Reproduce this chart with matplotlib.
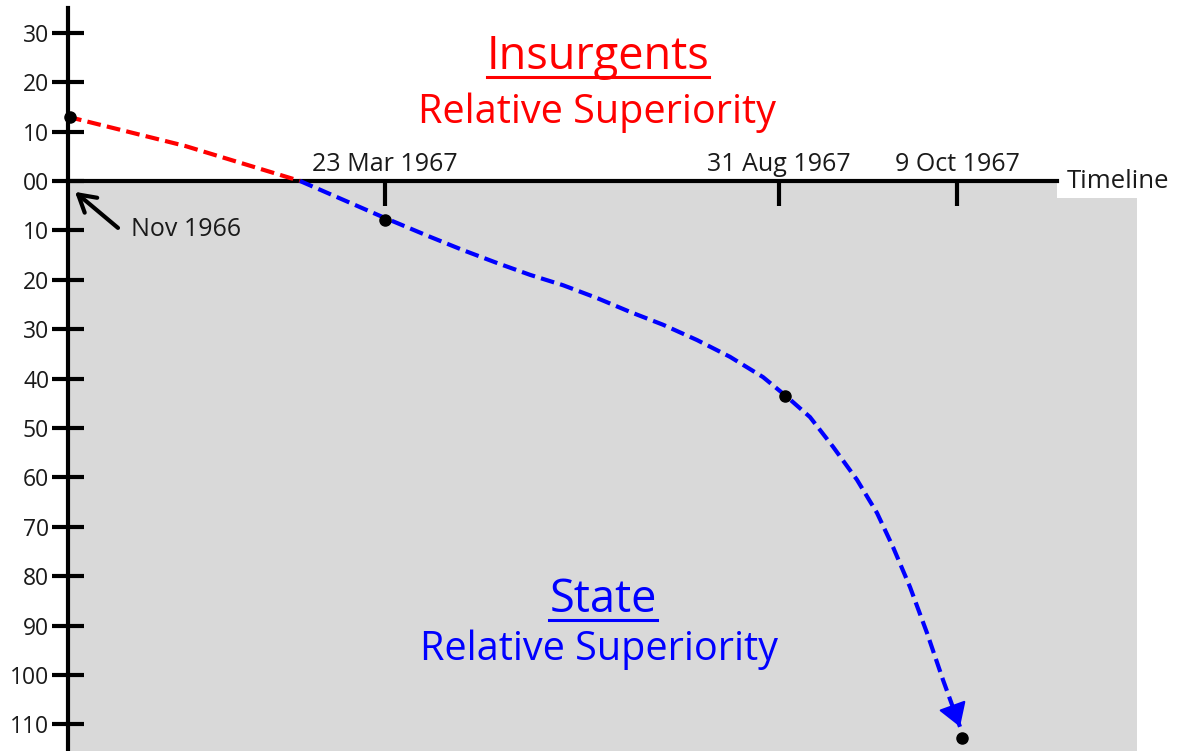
import numpy as np
import matplotlib.pyplot as plt
from matplotlib.patches import Rectangle
from matplotlib.lines import Line2D

plt.rcParams['font.family'] = ['Open Sans', 'DejaVu Sans']

########## data (schematic timeline units, superiority units) ##########

date_labels = ['23 Mar 1967', '31 Aug 1967', '9 Oct 1967']
date_pos = [31.7, 71.1, 88.9]

ytick_vals = [30, 20, 10, 0, -10, -20, -30, -40, -50, -60, -70, -80, -90, -100, -110]
ytick_labels = ['30', '20', '10', '00', '10', '20', '30', '40', '50', '60',
                '70', '80', '90', '100', '110']

# insurgents curve (above the timeline)
red_x = [0.0, 11.7, 23.2]
red_y = [13.0, 7.1, 0.0]

# state curve (below the timeline)
blue_x = [23.2, 31.7, 32.9, 36.2, 39.5, 42.9, 46.2, 49.5, 52.9, 56.2, 59.5,
          62.9, 66.2, 69.5, 71.9, 74.2, 76.5, 78.9, 80.9, 82.5, 84.2, 85.9,
          87.5, 89.2]
blue_y = [0.0, -7.5, -8.5, -11.3, -14.0, -16.6, -19.0, -21.1, -23.7, -26.5,
          -29.1, -32.2, -35.6, -39.7, -43.7, -47.8, -53.8, -60.5, -67.2,
          -74.1, -82.2, -91.5, -101.0, -110.5]

# black dots
dot_x = [0.2, 31.7, 71.7, 89.4]
dot_y = [13.0, -7.9, -43.5, -112.8]

########## figure ##########

fig = plt.figure(figsize=(11.82, 7.51), dpi=100)
ax = fig.add_axes([0, 0, 1, 1])
ax.set_xlim(-6.8, 111.4)
ax.set_ylim(-115.4, 36.64)
ybot = -115.4

# grey state region
ax.add_patch(Rectangle((0, ybot), 106.9, -ybot, facecolor='#d9d9d9',
                       edgecolor='none', zorder=0))
# white box behind "Timeline"
ax.add_patch(Rectangle((98.9, -3.45), 20, 3.45, facecolor='white',
                       edgecolor='none', zorder=0.5))

# axes lines
for s in ['right', 'bottom']:
    ax.spines[s].set_visible(False)
ax.spines['left'].set_position(('data', 0))
ax.spines['top'].set_position(('data', 0))
ax.spines['left'].set_bounds(ybot, 35.0)
ax.spines['top'].set_bounds(0, 98.9)
ax.spines['left'].set_linewidth(3)
ax.spines['top'].set_linewidth(3)
ax.spines['left'].set_zorder(3)
ax.spines['top'].set_zorder(3)

ax.set_yticks(ytick_vals)
ax.set_yticklabels(ytick_labels)
ax.tick_params(axis='y', direction='inout', length=23, width=3, pad=2,
               labelsize=16.5, labelcolor='#1a1a1a')

ax.xaxis.set_ticks_position('top')
ax.set_xticks(date_pos)
ax.set_xticklabels(date_labels)
ax.tick_params(axis='x', direction='in', length=18, width=3, pad=3,
               labelsize=18, labelcolor='#1a1a1a')

ax.text(99.9, -1.4, 'Timeline', fontsize=18.5, color='#1a1a1a',
        ha='left', va='baseline')

# curves
ax.plot(red_x, red_y, color='red', lw=3, dashes=(3.3, 1.5), zorder=4)
ax.plot(blue_x, blue_y, color='blue', lw=3, dashes=(3.3, 1.5), zorder=4)
dx = blue_x[-1] - blue_x[-2]
dy = blue_y[-1] - blue_y[-2]
ax.annotate('', xy=(blue_x[-1], blue_y[-1]),
            xytext=(blue_x[-1] - 0.05 * dx, blue_y[-1] - 0.05 * dy),
            arrowprops=dict(arrowstyle='-|>,head_length=0.8,head_width=0.5',
                            color='blue', lw=1.5, mutation_scale=18,
                            shrinkA=0, shrinkB=0), zorder=5)
ax.plot(dot_x, dot_y, 'o', color='black', ms=8, zorder=6)

# Nov 1966 pointer
ax.annotate('', xy=(0.7, -2.2), xytext=(5.0, -9.5),
            arrowprops=dict(arrowstyle='->,head_length=0.6,head_width=0.35',
                            color='black', lw=3, shrinkA=0, shrinkB=0,
                            mutation_scale=20), zorder=5)
ax.text(6.3, -11.1, 'Nov 1966', fontsize=18, color='#1a1a1a',
        ha='left', va='baseline')

# region labels
t1 = ax.text(53.0, 22.7, 'Insurgents', fontsize=32.5, color='red',
             ha='center', va='baseline')
ax.text(52.9, 11.7, 'Relative Superiority', fontsize=28.5, color='red',
        ha='center', va='baseline')
t2 = ax.text(53.5, -87.2, 'State', fontsize=32.5, color='blue',
             ha='center', va='baseline')
ax.text(53.1, -97.0, 'Relative Superiority', fontsize=28.5, color='blue',
        ha='center', va='baseline')

# underlines under the headings
fig.canvas.draw()
r = fig.canvas.get_renderer()
for t, col in [(t1, 'red'), (t2, 'blue')]:
    bb = t.get_window_extent(r)
    x0, x1 = bb.x0 / fig.bbox.width, bb.x1 / fig.bbox.width
    yb = t.get_transform().transform(t.get_position())[1]
    yl = (yb - 8) / fig.bbox.height
    fig.add_artist(Line2D([x0, x1], [yl, yl], color=col, lw=2.2))

fig.savefig('out.png', dpi=100)
